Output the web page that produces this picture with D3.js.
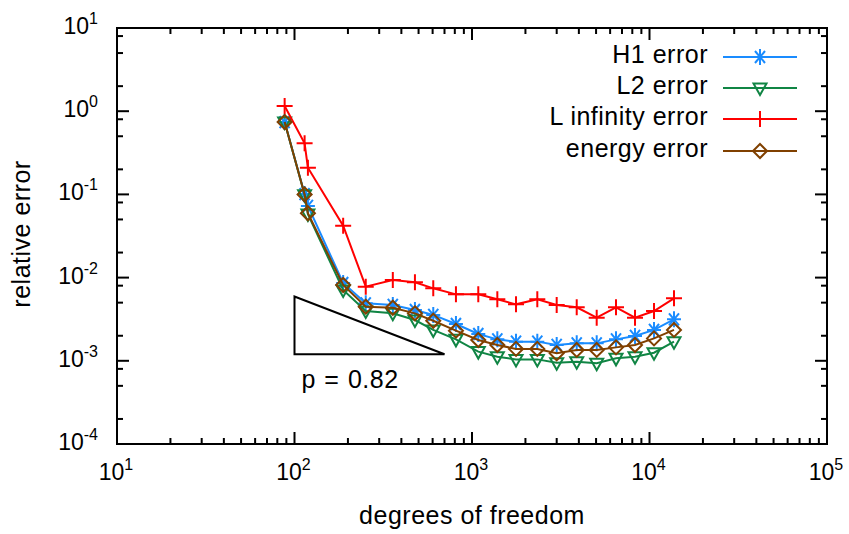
<!DOCTYPE html>
<html>
<head>
<meta charset="utf-8">
<script src="https://cdn.jsdelivr.net/npm/d3@7.9.0/dist/d3.min.js"></script>
<style>
  body { margin: 0; background: #fff; }
  svg { display: block; font-family: "Liberation Sans", Arial, sans-serif; }
  .lbl { letter-spacing: 0.5px; }
</style>
</head>
<body>
<svg id="chart" width="849" height="534"></svg>
<script>
// degrees of freedom (x) shared by every series
const dof = [88, 114, 119, 188, 252, 358, 477, 605, 812, 1085,
             1389, 1770, 2333, 3000, 3890, 5041, 6476, 8287, 10603, 13740];

const h1Err = [0.741, 0.101, 0.0726, 0.00861, 0.00491, 0.00469, 0.00408, 0.00356, 0.00277, 0.00210,
               0.00181, 0.00170, 0.00170, 0.00155, 0.00162, 0.00162, 0.00181, 0.00199, 0.00235, 0.00315];
const l2Err = [0.741, 0.099, 0.058, 0.0071, 0.00397, 0.00372, 0.00309, 0.00235, 0.00181, 0.00129,
               0.00112, 0.00104, 0.00104, 0.000948, 0.000976, 0.000933, 0.00107, 0.00112, 0.00125, 0.00170];
const linfErr = [1.155, 0.411, 0.2096, 0.0421, 0.00778, 0.00936, 0.00878, 0.00743, 0.00629, 0.00629,
                 0.00548, 0.00477, 0.00548, 0.00468, 0.00440, 0.00330, 0.00440, 0.00330, 0.00397, 0.00564];
const energyErr = [0.741, 0.100, 0.0593, 0.00815, 0.00447, 0.00434, 0.00372, 0.00303, 0.00230, 0.00178,
                   0.00155, 0.00139, 0.00139, 0.00123, 0.00135, 0.00135, 0.00145, 0.00155, 0.00186, 0.00235];

const seriesNames = ['H1 error', 'L2 error', 'L infinity error', 'energy error'];

// slope triangle (p = 0.82)
const triX = [100, 700];
const triY = [0.0012, 0.00592];
const slopeLabel = 'p = 0.82';

const xMajor = [1, 2, 3, 4, 5];   // exponents
const yMajor = [-4, -3, -2, -1, 0, 1];
const yMinorMult = [2, 5, 8];

const svg = d3.select('#chart');
const x = d3.scaleLog().domain([10, 1e5]).range([117, 827]);
const y = d3.scaleLog().domain([1e-4, 10]).range([444, 28]);

const colors = ['#1a8cff', '#108544', '#ff0000', '#804000'];
const values = [h1Err, l2Err, linfErr, energyErr];
const shapes = ['star', 'tri', 'plus', 'diamond'];

// ---- ticks (mirrored on all sides, pointing inward)
const xMinor = [];
for (let e = 1; e < 5; e++) for (let m = 2; m <= 9; m++) xMinor.push(m * 10 ** e);
const yMinor = [];
for (let e = -4; e < 1; e++) yMinorMult.forEach(m => yMinor.push(m * 10 ** e));

const axisG = svg.append('g').attr('stroke', '#000').attr('stroke-width', 2);
const x0 = x.range()[0], x1 = x.range()[1], y0 = y.range()[0], y1 = y.range()[1];

function tickLines(vals, len, horiz) {
  vals.forEach(v => {
    if (horiz) {
      const px = x(v);
      axisG.append('line').attr('x1', px).attr('x2', px).attr('y1', y0).attr('y2', y0 - len);
      axisG.append('line').attr('x1', px).attr('x2', px).attr('y1', y1).attr('y2', y1 + len);
    } else {
      const py = y(v);
      axisG.append('line').attr('x1', x0).attr('x2', x0 + len).attr('y1', py).attr('y2', py);
      axisG.append('line').attr('x1', x1).attr('x2', x1 - len).attr('y1', py).attr('y2', py);
    }
  });
}
tickLines(xMajor.map(e => 10 ** e), 12, true);
tickLines(xMinor, 6, true);
tickLines(yMajor.map(e => 10 ** e), 12, false);
tickLines(yMinor, 6, false);

svg.append('rect')
  .attr('x', x0).attr('y', y1)
  .attr('width', x1 - x0).attr('height', y0 - y1)
  .attr('fill', 'none').attr('stroke', '#000').attr('stroke-width', 2);

// ---- tick labels with superscripts
const tfs = 23, sup = 16, fs = 25;
xMajor.forEach(e => {
  const t = svg.append('text')
    .attr('x', x(10 ** e) - 1).attr('y', 480)
    .attr('text-anchor', 'middle').attr('font-size', tfs);
  t.append('tspan').text('10');
  t.append('tspan').attr('font-size', sup).attr('dy', -10).text(e);
});
yMajor.forEach(e => {
  const t = svg.append('text')
    .attr('x', 98).attr('y', y(10 ** e) + 6)
    .attr('text-anchor', 'end').attr('font-size', tfs);
  t.append('tspan').text('10');
  t.append('tspan').attr('font-size', sup).attr('dy', -10).text(e);
});

svg.append('text').attr('class', 'lbl')
  .attr('x', (x0 + x1) / 2).attr('y', 524)
  .attr('text-anchor', 'middle').attr('font-size', fs)
  .text('degrees of freedom');
svg.append('text').attr('class', 'lbl')
  .attr('transform', `translate(30,234) rotate(-90)`)
  .attr('text-anchor', 'middle').attr('font-size', fs)
  .text('relative error');

// ---- slope triangle
svg.append('path')
  .attr('d', `M${x(triX[0])},${y(triY[1])} L${x(triX[0])},${y(triY[0])} L${x(triX[1])},${y(triY[0])} Z`)
  .attr('fill', 'none').attr('stroke', '#000').attr('stroke-width', 2);
svg.append('text').attr('class', 'lbl')
  .attr('x', x(triX[0]) + 7).attr('y', y(triY[0]) + 34)
  .attr('font-size', fs).style('word-spacing', '1px').text(slopeLabel);

// ---- markers
function marker(g, shape, cx, cy, color) {
  const s = g.append('g').attr('transform', `translate(${cx},${cy})`)
    .attr('stroke', color).attr('stroke-width', 2).attr('fill', 'none');
  if (shape === 'plus') {
    s.append('path').attr('d', 'M-8,0H8M0,-8V8');
  } else if (shape === 'star') {
    s.append('path').attr('d', 'M-7,0H7M0,-8V8M-5,-6L5,6M-5,6L5,-6');
  } else if (shape === 'tri') {
    s.append('path').attr('d', 'M-6.5,-4.5L6.5,-4.5L0,7Z');
  } else if (shape === 'diamond') {
    s.append('path').attr('d', 'M0,-7L7,0L0,7L-7,0Z');
  }
}

// ---- series lines + points
const line = d3.line().x(d => x(d[0])).y(d => y(d[1]));
values.forEach((vals, i) => {
  const pts = dof.map((d, j) => [d, vals[j]]);
  const g = svg.append('g');
  g.append('path').attr('d', line(pts))
    .attr('fill', 'none').attr('stroke', colors[i]).attr('stroke-width', 2);
  pts.forEach(p => marker(g, shapes[i], x(p[0]), y(p[1]), colors[i]));
});

// ---- legend
const legY = [57, 88, 119, 151];
seriesNames.forEach((name, i) => {
  svg.append('text').attr('class', 'lbl')
    .attr('x', 708).attr('y', legY[i] + 6)
    .attr('text-anchor', 'end').attr('font-size', fs).text(name);
  svg.append('line')
    .attr('x1', 723).attr('x2', 797).attr('y1', legY[i]).attr('y2', legY[i])
    .attr('stroke', colors[i]).attr('stroke-width', 2);
  marker(svg, shapes[i], 760, legY[i], colors[i]);
});
</script>
</body>
</html>
